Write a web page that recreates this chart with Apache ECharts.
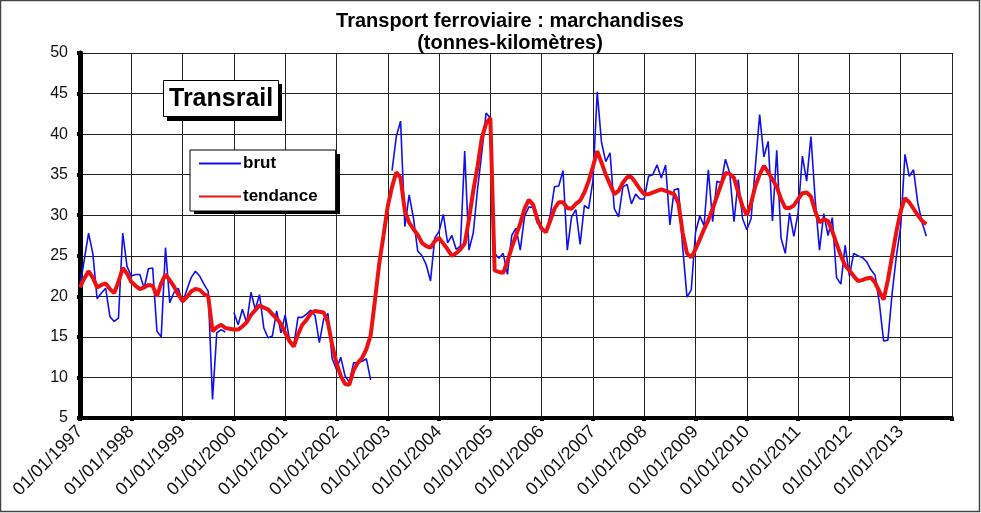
<!DOCTYPE html>
<html>
<head>
<meta charset="utf-8">
<script src="https://cdn.jsdelivr.net/npm/echarts@6/dist/echarts.min.js"></script>
<style>
html, body { margin: 0; padding: 0; background: #fff; }
#chart { width: 981px; height: 513px; }
</style>
</head>
<body>
<div id="chart"></div>
<script>
// years shown on the axis (last one is the closing tick, no label)
var years = [1997, 1998, 1999, 2000, 2001, 2002, 2003, 2004, 2005,
  2006, 2007, 2008, 2009, 2010, 2011, 2012, 2013, 2014];

// monthly categories 01/MM/YYYY
var months = [];
years.forEach(function (y) {
  for (var m = 1; m <= 12; m++) {
    if (y === 2014 && m > 1) break;
    months.push('01/' + (m < 10 ? '0' + m : m) + '/' + y);
  }
});

// brut (monthly raw values), Jan 1997 -> Jul 2013
var brut = [
  21.3, 24.5, 27.8, 25.3, 19.7, 20.4, 21.0, 17.5, 16.9, 17.3, 27.8, 23.7,
  22.5, 22.7, 22.7, 21.0, 23.4, 23.5, 15.7, 15.0, 26.0, 19.2, 20.5, 21.0,
  19.2, 20.8, 22.3, 23.1, 22.5, 21.5, 20.6, 7.3, 15.5, 15.9, 15.6, null,
  18.0, 16.5, 18.4, 16.7, 20.5, 18.4, 20.2, 16.1, 14.9, 15.1, 18.2, 15.5,
  17.7, 14.7, 13.9, 17.4, 17.4, 17.8, 18.3, 17.6, 14.3, 17.2, 17.9, 12.3,
  11.0, 12.5, 10.2, 9.4, 11.8, 11.8, 12.0, 12.3, 9.7, null, null, null,
  null, 35.5, 39.7, 41.6, 28.6, 32.5, 29.7, 25.6, 25.0, 23.9, 21.9, 27.2,
  28.0, 30.1, 26.6, 27.5, 25.8, 26.2, 37.9, 25.7, 27.8, 33.2, 37.7, 42.6,
  42.0, 25.3, 24.7, 25.3, 22.7, 27.5, 28.4, 25.7, 29.9, 31.0, 31.0, 29.0,
  28.6, 27.9, 30.0, 33.5, 33.6, 35.5, 25.7, 29.8, 30.7, 26.4, 31.2, 30.8,
  34.3, 45.2, 39.0, 36.6, 37.7, 30.8, 29.8, 33.5, 33.8, 31.4, 32.6, 32.0,
  32.0, 34.8, 35.0, 36.2, 34.6, 36.2, 28.8, 33.1, 33.3, 26.0, 19.9, 20.8,
  27.9, 29.9, 28.7, 35.6, 29.2, 34.2, 34.0, 36.9, 35.2, 29.2, 34.4, 29.6,
  28.2, 29.6, 36.0, 42.4, 37.2, 39.1, 29.3, 38.0, 27.2, 25.3, 30.3, 27.4,
  30.3, 37.3, 34.2, 39.7, 31.9, 25.7, 30.2, 27.5, 29.7, 22.3, 21.5, 26.3,
  22.5, 25.3, 25.0, 24.8, 24.3, 23.3, 22.6, 19.2, 14.5, 14.6, 20.4, 25.0,
  28.6, 37.5, 34.8, 35.6, 31.5, 29.1, 27.4
];

// tendance (trend), same months
var tendance = [
  21.1, 22.2, 23.1, 22.3, 21.1, 21.4, 21.6, 20.9, 20.4, 21.8, 23.5, 22.8,
  21.8, 21.3, 20.9, 21.1, 21.4, 21.3, 20.0, 21.6, 22.7, 22.0, 21.2, 20.2,
  19.4, 19.9, 20.6, 20.9, 20.8, 20.3, 20.0, 15.7, 16.2, 16.5, 16.1, 16.0,
  15.9, 15.9, 16.3, 16.8, 17.7, 18.3, 18.9, 18.6, 18.4, 17.8, 17.3, 16.6,
  15.5, 14.5, 13.8, 15.3, 16.5, 17.1, 17.9, 18.2, 18.1, 18.0, 16.8, 14.0,
  11.8, 10.2, 9.2, 9.1, 10.9, 11.8, 12.4, 13.5, 15.2, 19.5, 24.0, 27.5,
  31.1, 33.5, 35.3, 34.6, 30.5, 29.1, 28.3, 27.6, 26.6, 26.2, 26.0, 26.8,
  27.2, 26.5, 25.8, 25.0, 25.3, 25.8, 26.5, 29.5, 33.0, 36.0, 39.5, 41.3,
  42.0, 23.2, 23.0, 22.9, 24.3, 26.0, 27.5, 29.0, 30.8, 31.9, 31.3, 29.5,
  28.3, 27.9, 29.3, 30.8, 31.6, 31.6, 30.9, 30.8, 31.4, 31.8, 32.8, 34.2,
  36.0, 37.9, 36.5, 35.0, 33.8, 32.6, 33.0, 34.0, 34.7, 34.7, 34.0, 33.2,
  32.6, 32.6, 32.8, 33.0, 33.2, 33.0, 32.8, 32.6, 31.5, 27.8, 25.3, 24.8,
  25.8, 27.0, 28.3, 29.4, 30.8, 32.3, 33.8, 35.2, 35.1, 34.6, 32.8, 31.1,
  30.0, 31.5, 33.6, 35.0, 36.1, 35.3, 34.4, 33.5, 32.0, 30.9, 30.9, 31.2,
  32.0, 32.7, 32.8, 32.3, 30.5, 29.1, 29.5, 29.3, 28.0, 26.5, 25.0, 23.8,
  23.2, 22.5, 21.9, 22.0, 22.2, 22.3, 21.7, 20.6, 19.6, 22.0, 25.0, 28.0,
  30.5, 32.1, 31.6, 30.8, 30.0, 29.3, 28.9
];

var font = "'Liberation Sans', Arial, sans-serif";
var last = months.length - 1;
function yearStart(i) { return i % 12 === 0; }

var chart = echarts.init(document.getElementById('chart'));
chart.setOption({
  animation: false,
  backgroundColor: '#fff',
  textStyle: { fontFamily: font },
  title: [
    {
      text: 'Transport ferroviaire : marchandises\n(tonnes-kilomètres)',
      left: 505,
      top: 5,
      textAlign: 'center',
      z: 10,
      textStyle: {
        fontFamily: font,
        fontSize: 20, fontWeight: 'bold', color: '#000', lineHeight: 22
      }
    },
    {
      text: 'Transrail',
      left: 163,
      top: 80,
      padding: [6, 6, 5, 6],
      backgroundColor: '#fff',
      borderColor: '#000',
      borderWidth: 1,
      z: 10,
      textStyle: { fontFamily: font, fontSize: 25, fontWeight: 'bold', color: '#000', lineHeight: 26 }
    }
  ],
  legend: {
    orient: 'vertical',
    left: 190,
    top: 150,
    padding: [5, 18, 6, 8],
    itemWidth: 42,
    itemHeight: 14,
    itemGap: 16,
    backgroundColor: '#fff',
    borderColor: '#000',
    borderWidth: 1,
    borderRadius: 0,
    z: 10,
    itemStyle: { opacity: 0, color: 'rgba(0,0,0,0)', borderWidth: 0 },
    textStyle: { fontFamily: font, fontSize: 17, fontWeight: 'bold', color: '#000', padding: [0, 0, 0, -3] },
    data: ['brut', 'tendance']
  },
  grid: { left: 80, right: 29, top: 53, bottom: 95 },
  xAxis: {
    type: 'category',
    data: months,
    boundaryGap: false,
    axisLine: { lineStyle: { color: '#000', width: 4 } },
    axisTick: {
      interval: function (i) { return yearStart(i); },
      length: 3, lineStyle: { color: '#000', width: 4 }
    },
    axisLabel: {
      interval: function (i) { return yearStart(i) && i < last; },
      rotate: 45,
      margin: 11,
      fontFamily: font,
      fontSize: 18,
      color: '#111'
    },
    splitLine: {
      show: true,
      interval: function (i) { return yearStart(i); },
      lineStyle: { color: '#222', width: 1 }
    }
  },
  yAxis: {
    type: 'value',
    min: 5,
    max: 50,
    interval: 5,
    axisLine: { show: true, lineStyle: { color: '#000', width: 5 } },
    axisTick: { show: true, length: 3, lineStyle: { color: '#000', width: 4 } },
    axisLabel: { margin: 12, fontFamily: font, fontSize: 16, color: '#111' },
    splitLine: { lineStyle: { color: '#222', width: 1 } }
  },
  series: [
    {
      name: 'brut',
      type: 'line',
      data: brut,
      symbol: 'none',
      connectNulls: false,
      lineStyle: { color: '#1010ee', width: 1.6 },
      itemStyle: { color: '#1010ee' },
      z: 3
    },
    {
      name: 'tendance',
      type: 'line',
      data: tendance,
      symbol: 'none',
      lineStyle: { color: '#ee1111', width: 4 },
      itemStyle: { color: '#ee1111' },
      z: 4
    }
  ],
  graphic: [
    {
      type: 'rect',
      shape: { x: 0.5, y: 0.5, width: 979, height: 511 },
      style: { fill: 'none', stroke: '#444', lineWidth: 1.5 },
      silent: true
    },
    // drop shadows behind the two boxes
    {
      type: 'rect', z: 5, silent: true,
      shape: { x: 167, y: 84, width: 115, height: 37 },
      style: { fill: '#000' }
    },
    {
      type: 'rect', z: 5, silent: true,
      shape: { x: 194, y: 154, width: 146, height: 60 },
      style: { fill: '#000' }
    }
  ]
});
</script>
</body>
</html>
